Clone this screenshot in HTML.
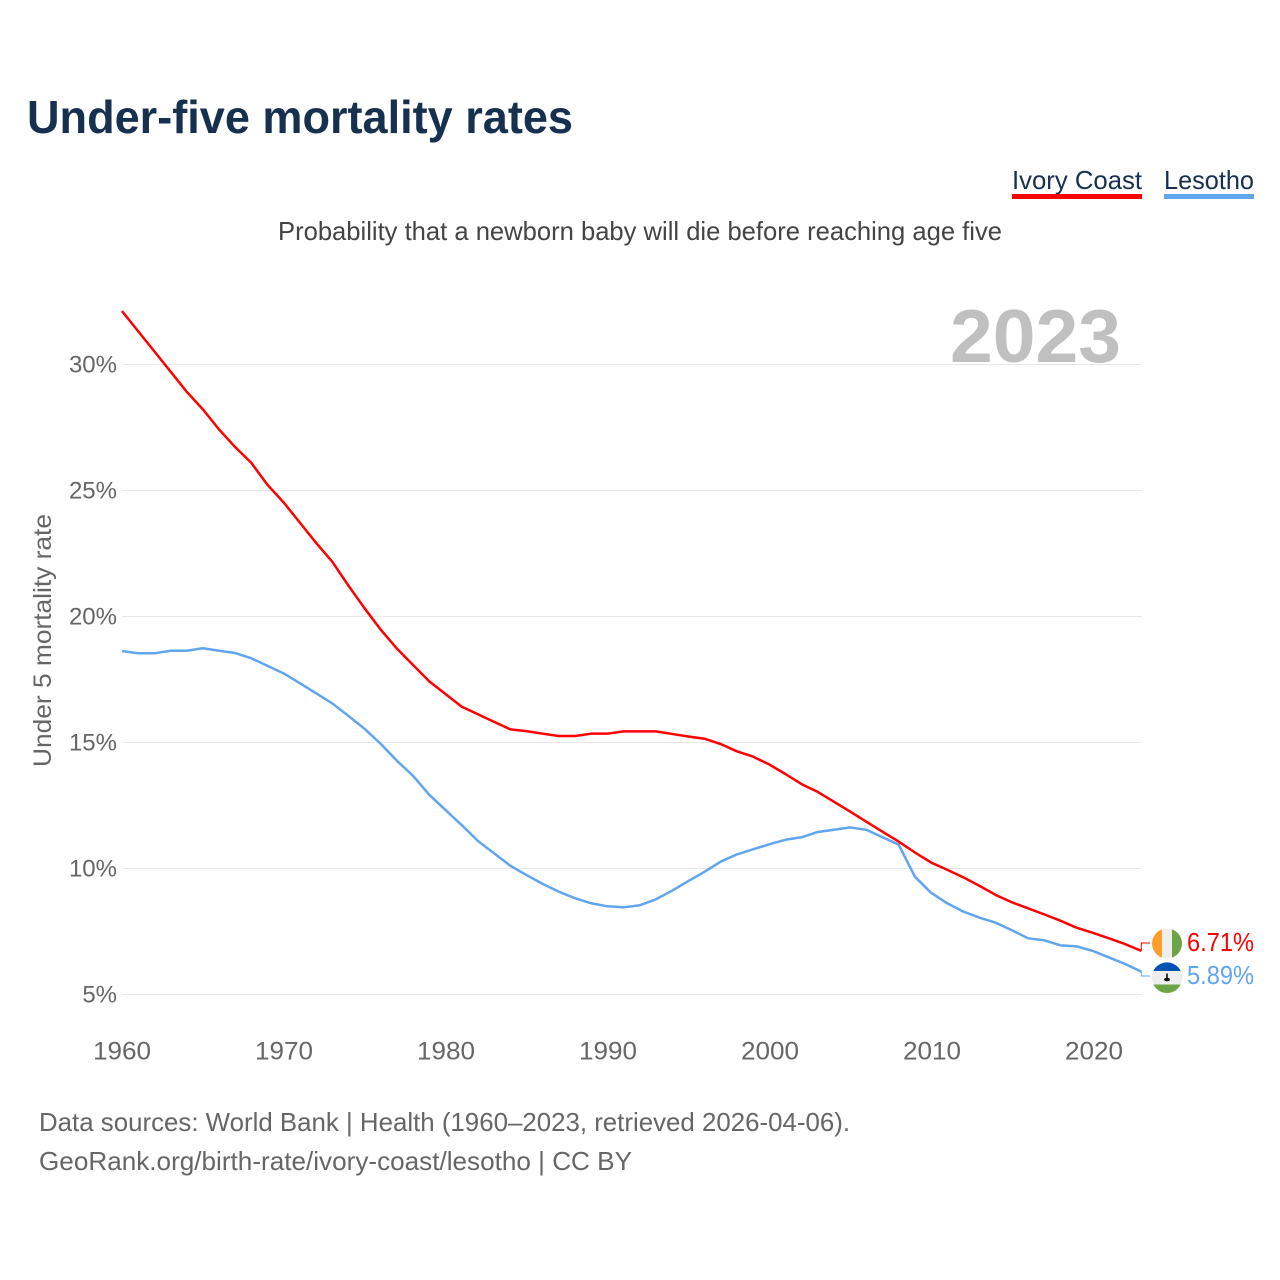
<!DOCTYPE html>
<html lang="en">
<head>
<meta charset="utf-8">
<title>Under-five mortality rates</title>
<style>
html,body{margin:0;padding:0;background:#fff;width:1280px;height:1280px;overflow:hidden}
svg{display:block;font-family:"Liberation Sans",sans-serif}
</style>
</head>
<body>
<svg id="chart" xmlns="http://www.w3.org/2000/svg" width="1280" height="1280" viewBox="0 0 1280 1280">
  <rect width="1280" height="1280" fill="#fff"/>
  <text x="27" y="133" font-size="46" font-weight="700" fill="#17304f" textLength="546" lengthAdjust="spacingAndGlyphs">Under-five mortality rates</text>
  <text x="1012" y="189" font-size="26" fill="#17304f" textLength="130" lengthAdjust="spacingAndGlyphs">Ivory Coast</text>
  <rect x="1012" y="194" width="130" height="5" fill="#ff0000"/>
  <text x="1164" y="189" font-size="26" fill="#17304f" textLength="90" lengthAdjust="spacingAndGlyphs">Lesotho</text>
  <rect x="1164" y="194" width="90" height="5" fill="#60a5ee"/>
  <text x="278" y="240" font-size="26" fill="#444" textLength="724" lengthAdjust="spacingAndGlyphs">Probability that a newborn baby will die before reaching age five</text>
  <g id="grid"></g>
  <text x="950" y="362" font-size="75" font-weight="700" fill="#c0c0c0" textLength="171" lengthAdjust="spacingAndGlyphs">2023</text>
  <g id="yLabels"></g>
  <g id="xLabels"></g>
  <text transform="translate(51,767) rotate(-90)" x="0" y="0" font-size="25" fill="#666" textLength="253" lengthAdjust="spacingAndGlyphs">Under 5 mortality rate</text>
  <g id="series"></g>
  <defs>
    <clipPath id="clip-ci"><circle cx="1167" cy="943.5" r="15"/></clipPath>
    <clipPath id="clip-ls"><circle cx="1167" cy="977.7" r="15.3"/></clipPath>
  </defs>
  <g clip-path="url(#clip-ci)">
    <rect x="1152" y="928" width="10" height="31" fill="#ff9e2c"/>
    <rect x="1162" y="928" width="10" height="31" fill="#eeeeee"/>
    <rect x="1172" y="928" width="10" height="31" fill="#6da544"/>
  </g>
  <g clip-path="url(#clip-ls)">
    <rect x="1151" y="962" width="32" height="9" fill="#0052b4"/>
    <rect x="1151" y="971" width="32" height="13.5" fill="#eeeeee"/>
    <rect x="1151" y="984.5" width="32" height="9" fill="#6da544"/>
    <rect x="1166.2" y="973.5" width="1.6" height="5" fill="#111"/>
    <ellipse cx="1167" cy="979.5" rx="3" ry="1.8" fill="#111"/>
  </g>
  <text x="39" y="1131" font-size="26" fill="#666" textLength="811" lengthAdjust="spacingAndGlyphs">Data sources: World Bank | Health (1960–2023, retrieved 2026-04-06).</text>
  <text x="39" y="1170" font-size="26" fill="#666" textLength="593" lengthAdjust="spacingAndGlyphs">GeoRank.org/birth-rate/ivory-coast/lesotho | CC BY</text>
</svg>
<script>
const startYear = 1960;
const ivoryCoast = [32.1,31.3,30.5,29.7,28.9,28.2,27.4,26.7,26.07,25.2,24.5,23.7,22.9,22.15,21.2,20.3,19.45,18.7,18.05,17.4,16.9,16.4,16.1,15.8,15.5,15.43,15.33,15.24,15.24,15.33,15.33,15.42,15.42,15.42,15.32,15.22,15.13,14.92,14.63,14.42,14.11,13.73,13.33,13.02,12.63,12.24,11.84,11.44,11.05,10.62,10.22,9.93,9.63,9.29,8.93,8.64,8.4,8.16,7.91,7.63,7.43,7.21,6.98,6.71];
const lesotho = [18.61,18.52,18.52,18.62,18.62,18.72,18.62,18.53,18.32,18.02,17.72,17.33,16.93,16.53,16.03,15.52,14.92,14.25,13.65,12.9,12.3,11.7,11.07,10.58,10.09,9.72,9.37,9.06,8.8,8.6,8.48,8.44,8.52,8.76,9.1,9.48,9.85,10.25,10.54,10.74,10.94,11.12,11.22,11.43,11.52,11.61,11.52,11.22,10.93,9.66,9.02,8.6,8.27,8.03,7.83,7.53,7.21,7.13,6.93,6.89,6.71,6.45,6.19,5.89];
const yTicks = [5,10,15,20,25,30];
const xTicks = [1960,1970,1980,1990,2000,2010,2020];

const NS = 'http://www.w3.org/2000/svg';
function xScale(year){ return 122 + (year - 1960) * 16.18; }
function xLabelScale(year){ return 122 + (year - 1960) * 16.2; }
function yScale(v){ return 994 - (v - 5) * 25.2; }
function make(tag, attrs, parent, text){
  const el = document.createElementNS(NS, tag);
  for (const k in attrs) el.setAttribute(k, attrs[k]);
  if (text !== undefined) el.textContent = text;
  parent.appendChild(el);
  return el;
}
const gridG = document.getElementById('grid');
const yG = document.getElementById('yLabels');
const xG = document.getElementById('xLabels');
const seriesG = document.getElementById('series');

yTicks.forEach(function(t){
  const line = make('line', {x1:122, x2:1142, y1:yScale(t)+0.5, y2:yScale(t)+0.5, stroke:'#e8e8e8', 'stroke-width':1}, gridG);
  
  
  const label = make('text', {x:117, y:yScale(t)+8.5, 'font-size':24, fill:'#666', 'text-anchor':'end'}, yG, t + '%');
  
  
});
xTicks.forEach(function(t){
  const label = make('text', {x:xLabelScale(t)-29, y:1059.5, 'font-size':25, fill:'#666', textLength:58, lengthAdjust:'spacingAndGlyphs'}, xG, String(t));
  
  
});

function drawSeries(values, color, key, labelY){
  const pts = values.map(function(v,i){ return xScale(startYear+i).toFixed(2)+','+yScale(v).toFixed(2); }).join(' ');
  const line = make('polyline', {points:pts, fill:'none', stroke:color, 'stroke-width':2.5, 'stroke-linejoin':'round'}, seriesG);
  
  
  const last = values[values.length-1];
  const endX = xScale(startYear+values.length-1);
  const endY = yScale(last);
  const conn = make('path', {d:'M'+endX.toFixed(1)+' '+endY.toFixed(1)+' V'+(labelY-8)+' H1150', fill:'none', stroke:color, 'stroke-width':1}, seriesG);
  
  
  const val = make('text', {x:1187, y:labelY, 'font-size':26, fill:color, textLength:67, lengthAdjust:'spacingAndGlyphs'}, seriesG, last.toFixed(2)+'%');
  
  
}
drawSeries(lesotho, '#60a5ee', 'lesotho', 984);
drawSeries(ivoryCoast, '#ff0000', 'ivory-coast', 951);
</script>
</body>
</html>
